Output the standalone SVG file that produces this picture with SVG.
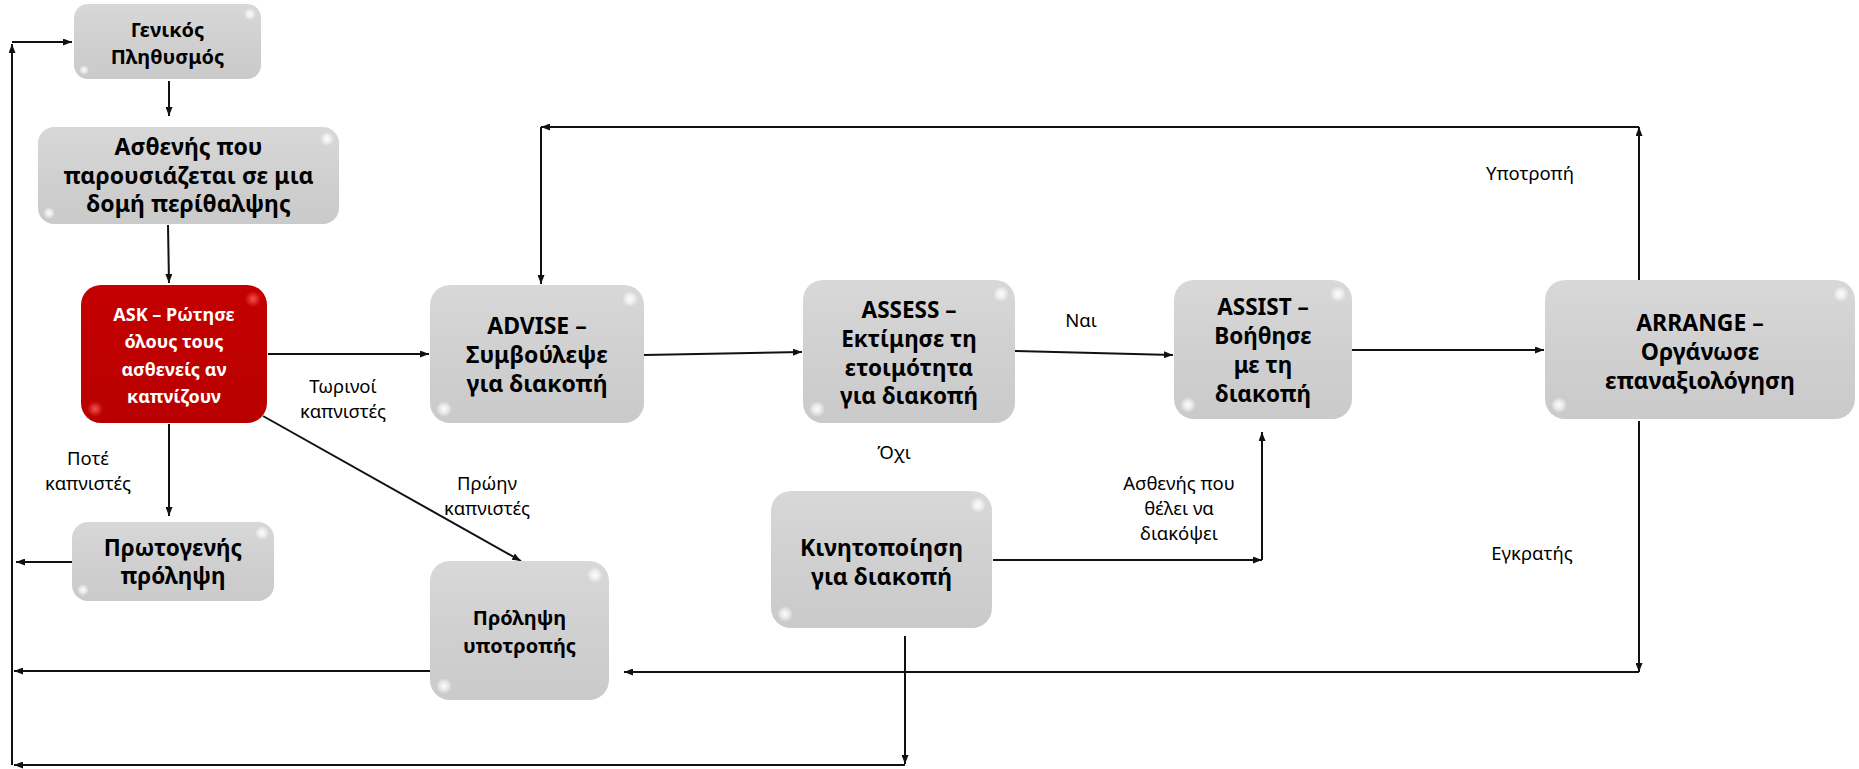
<svg xmlns="http://www.w3.org/2000/svg" width="1859" height="769" viewBox="0 0 1859 769">
  <defs>
    <linearGradient id="gGray" x1="0" y1="0" x2="0" y2="1">
      <stop offset="0" stop-color="#d8d8d8"/>
      <stop offset="0.5" stop-color="#d0d0d0"/>
      <stop offset="1" stop-color="#cacaca"/>
    </linearGradient>
    <linearGradient id="gRed" x1="0" y1="0" x2="0" y2="1">
      <stop offset="0" stop-color="#c40000"/>
      <stop offset="1" stop-color="#b90000"/>
    </linearGradient>
    <radialGradient id="hlW">
      <stop offset="0" stop-color="#ffffff" stop-opacity="0.95"/>
      <stop offset="0.55" stop-color="#ffffff" stop-opacity="0.55"/>
      <stop offset="1" stop-color="#ffffff" stop-opacity="0"/>
    </radialGradient>
    <radialGradient id="hlR">
      <stop offset="0" stop-color="#ff5a5a" stop-opacity="0.9"/>
      <stop offset="1" stop-color="#ff5a5a" stop-opacity="0"/>
    </radialGradient>
    <marker id="ah" viewBox="0 0 9 7" refX="9" refY="3.5" markerWidth="9" markerHeight="7" markerUnits="userSpaceOnUse" orient="auto">
      <path d="M0,0 L9,3.5 L0,7 z" fill="#111"/>
    </marker>
    <style>
      .box { fill: url(#gGray); }
      .red { fill: url(#gRed); }
      .hl { fill: url(#hlW); }
      .hlr { fill: url(#hlR); }
      .t { font-family: "Noto Sans", "Open Sans", sans-serif; font-weight: bold; text-anchor: middle; fill: #000; }
      .tw { font-family: "Noto Sans", "Open Sans", sans-serif; font-weight: bold; text-anchor: middle; fill: #fff; font-size: 18px; }
      .lb { font-family: "Noto Sans", "Open Sans", sans-serif; font-size: 18.5px; text-anchor: middle; fill: #000; }
      .c { fill: none; stroke: #111; stroke-width: 2; marker-end: url(#ah); }
    </style>
  </defs>

  <g id="connectors">
    <path class="c" d="M12,765 V44"/>
    <path class="c" d="M12,42 H72"/>
    <path class="c" d="M169,81 V116"/>
    <path class="c" d="M168,225 L169,283"/>
    <path class="c" d="M268,354 H429"/>
    <path class="c" d="M169,424 V516"/>
    <path class="c" d="M263,416 L521,561"/>
    <path class="c" d="M72,562 H16"/>
    <path class="c" d="M430,671 H14"/>
    <path class="c" d="M644,355 L802,352"/>
    <path class="c" d="M1015,351 L1173,355"/>
    <path class="c" d="M1352,350 H1544"/>
    <path class="c" d="M1639,280 V127"/>
    <path class="c" d="M1639,127 H541"/>
    <path class="c" d="M541,127 V284"/>
    <path class="c" d="M1639,421 V672"/>
    <path class="c" d="M1639,672 H624"/>
    <path class="c" d="M993,560 H1262"/>
    <path class="c" d="M1262,560 V432"/>
    <path class="c" d="M905,636 V764"/>
    <path class="c" d="M905,765 H14"/>
  </g>

  <g id="labels">
    <text class="lb" x="343" y="393">Τωρινοί</text>
    <text class="lb" x="343" y="418">καπνιστές</text>
    <text class="lb" x="88" y="465">Ποτέ</text>
    <text class="lb" x="88" y="490">καπνιστές</text>
    <text class="lb" x="487" y="490">Πρώην</text>
    <text class="lb" x="487" y="515">καπνιστές</text>
    <text class="lb" x="1081" y="327">Ναι</text>
    <text class="lb" x="894" y="459">Όχι</text>
    <text class="lb" x="1530" y="180">Υποτροπή</text>
    <text class="lb" x="1532" y="560">Εγκρατής</text>
    <text class="lb" x="1179" y="490">Ασθενής που</text>
    <text class="lb" x="1179" y="515">θέλει να</text>
    <text class="lb" x="1179" y="540">διακόψει</text>
  </g>

  <g id="n-genikos">
    <rect class="box" x="74" y="4" width="187" height="75" rx="14"/>
    <ellipse class="hl" cx="250" cy="14" rx="6" ry="6"/>
    <ellipse class="hl" cx="84" cy="70" rx="5" ry="5"/>
    <text class="t" font-size="20" x="167.5" y="37">Γενικός</text>
    <text class="t" font-size="20" x="167.5" y="64">Πληθυσμός</text>
  </g>

  <g id="n-asthenis">
    <rect class="box" x="38" y="127" width="301" height="97" rx="16"/>
    <ellipse class="hl" cx="327" cy="139" rx="7" ry="7"/>
    <ellipse class="hl" cx="49" cy="213" rx="6" ry="6"/>
    <text class="t" font-size="23" x="188.5" y="155">Ασθενής που</text>
    <text class="t" font-size="23" x="188.5" y="183.5">παρουσιάζεται σε μια</text>
    <text class="t" font-size="23" x="188.5" y="212">δομή περίθαλψης</text>
  </g>

  <g id="n-ask">
    <rect class="red" x="81" y="285" width="186" height="138" rx="20"/>
    <ellipse class="hlr" cx="253" cy="299" rx="8" ry="8"/>
    <ellipse class="hlr" cx="95" cy="409" rx="8" ry="8"/>
    <text class="tw" x="174" y="321">ASK – Ρώτησε</text>
    <text class="tw" x="174" y="348">όλους τους</text>
    <text class="tw" x="174" y="376">ασθενείς αν</text>
    <text class="tw" x="174" y="403">καπνίζουν</text>
  </g>

  <g id="n-advise">
    <rect class="box" x="430" y="285" width="214" height="138" rx="20"/>
    <ellipse class="hl" cx="630" cy="299" rx="8" ry="8"/>
    <ellipse class="hl" cx="444" cy="409" rx="8" ry="8"/>
    <text class="t" font-size="23" x="537" y="334">ADVISE –</text>
    <text class="t" font-size="23" x="537" y="363">Συμβούλεψε</text>
    <text class="t" font-size="23" x="537" y="392">για διακοπή</text>
  </g>

  <g id="n-assess">
    <rect class="box" x="803" y="280" width="212" height="143" rx="20"/>
    <ellipse class="hl" cx="1001" cy="294" rx="8" ry="8"/>
    <ellipse class="hl" cx="817" cy="409" rx="8" ry="8"/>
    <text class="t" font-size="22.5" x="909" y="318">ASSESS –</text>
    <text class="t" font-size="22.5" x="909" y="347">Εκτίμησε τη</text>
    <text class="t" font-size="22.5" x="909" y="376">ετοιμότητα</text>
    <text class="t" font-size="22.5" x="909" y="404">για διακοπή</text>
  </g>

  <g id="n-assist">
    <rect class="box" x="1174" y="280" width="178" height="139" rx="20"/>
    <ellipse class="hl" cx="1338" cy="294" rx="8" ry="8"/>
    <ellipse class="hl" cx="1188" cy="405" rx="8" ry="8"/>
    <text class="t" font-size="22.5" x="1263" y="315">ASSIST –</text>
    <text class="t" font-size="22.5" x="1263" y="344">Βοήθησε</text>
    <text class="t" font-size="22.5" x="1263" y="373">με τη</text>
    <text class="t" font-size="22.5" x="1263" y="402">διακοπή</text>
  </g>

  <g id="n-arrange">
    <rect class="box" x="1545" y="280" width="310" height="139" rx="20"/>
    <ellipse class="hl" cx="1841" cy="294" rx="8" ry="8"/>
    <ellipse class="hl" cx="1559" cy="405" rx="8" ry="8"/>
    <text class="t" font-size="23" x="1700" y="331">ARRANGE –</text>
    <text class="t" font-size="23" x="1700" y="360">Οργάνωσε</text>
    <text class="t" font-size="23" x="1700" y="389">επαναξιολόγηση</text>
  </g>

  <g id="n-kinitopoiisi">
    <rect class="box" x="771" y="491" width="221" height="137" rx="20"/>
    <ellipse class="hl" cx="978" cy="505" rx="8" ry="8"/>
    <ellipse class="hl" cx="785" cy="614" rx="8" ry="8"/>
    <text class="t" font-size="23" x="881.5" y="556">Κινητοποίηση</text>
    <text class="t" font-size="23" x="881.5" y="585">για διακοπή</text>
  </g>

  <g id="n-prolipsi-ypotropis">
    <rect class="box" x="430" y="561" width="179" height="139" rx="20"/>
    <ellipse class="hl" cx="595" cy="575" rx="8" ry="8"/>
    <ellipse class="hl" cx="444" cy="686" rx="8" ry="8"/>
    <text class="t" font-size="20" x="519.5" y="625">Πρόληψη</text>
    <text class="t" font-size="20" x="519.5" y="653">υποτροπής</text>
  </g>

  <g id="n-protogenis">
    <rect class="box" x="72" y="522" width="202" height="79" rx="16"/>
    <ellipse class="hl" cx="262" cy="533" rx="7" ry="7"/>
    <ellipse class="hl" cx="83" cy="590" rx="6" ry="6"/>
    <text class="t" font-size="22.5" x="173" y="556">Πρωτογενής</text>
    <text class="t" font-size="22.5" x="173" y="584">πρόληψη</text>
  </g>
</svg>
